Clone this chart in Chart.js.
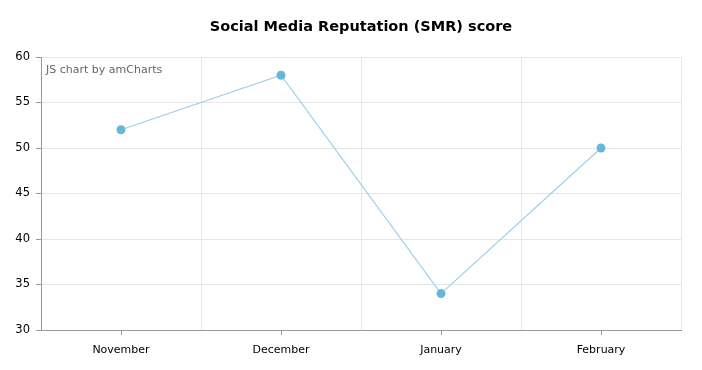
<!DOCTYPE html>
<html>
<head>
<meta charset="utf-8">
<script src="https://cdn.jsdelivr.net/npm/chart.js@4/dist/chart.umd.min.js"></script>
<style>
  html, body { margin: 0; padding: 0; background: #fff; }
  #wrap { width: 702px; height: 370px; }
</style>
</head>
<body>
<div id="wrap"><canvas id="my-chart"></canvas></div>
<script>
'use strict';

// #pragma Data

let months = ['November', 'December', 'January', 'February'];
let smrScores = [52, 58, 34, 50];
let chartTitle = 'Social Media Reputation (SMR) score';
let creditText = 'JS chart by amCharts';

let fontFamily = 'Verdana, "DejaVu Sans", sans-serif';

// #pragma Plugins

// title centred over the plot, credit text, and small tick marks under each month
let extrasPlugin = {
  id: 'extras',
  afterDraw(chart) {
    let ctx = chart.ctx;
    let area = chart.chartArea;
    let xScale = chart.scales.x;

    ctx.save();
    ctx.fillStyle = '#000';
    ctx.font = 'bold 14.5px ' + fontFamily;
    ctx.textAlign = 'center';
    ctx.textBaseline = 'middle';
    ctx.fillText(chartTitle, (area.left + area.right) / 2, 27);

    ctx.fillStyle = '#666';
    ctx.font = '11px ' + fontFamily;
    ctx.textAlign = 'left';
    ctx.fillText(creditText, area.left + 5, 70);

    ctx.strokeStyle = '#999';
    ctx.lineWidth = 1;
    for (let i = 0; i < months.length; i++) {
      let x = Math.round(xScale.getPixelForValue(i)) + 0.5;
      ctx.beginPath();
      ctx.moveTo(x, area.bottom);
      ctx.lineTo(x, area.bottom + 5);
      ctx.stroke();
    }
    ctx.restore();
  },
};

// #pragma Chart

let chartContext = document.getElementById('my-chart').getContext('2d');

let chartConfig = {
  type: 'line',
  data: {
    labels: months,
    datasets: [{
      label: 'SMR score',
      data: smrScores,
      borderColor: '#9dd0ea',
      borderWidth: 1.2,
      backgroundColor: '#67b7dc',
      pointBackgroundColor: '#67b7dc',
      pointBorderWidth: 0,
      pointRadius: 4.5,
      tension: 0,
    }],
  },
  options: {
    responsive: true,
    maintainAspectRatio: false,
    animation: false,
    layout: { padding: { top: 57, right: 21, left: 0, bottom: 0 } },
    plugins: {
      legend: { display: false },
      title: { display: false },
      tooltip: { enabled: false },
    },
    scales: {
      x: {
        offset: true,
        grid: { offset: true, color: '#e6e6e6', drawTicks: false },
        border: { color: '#999' },
        ticks: { color: '#000', font: { family: fontFamily, size: 11 }, padding: 14, maxRotation: 0 },
        afterFit(scale) { scale.height = 40; },
      },
      y: {
        min: 30,
        max: 60,
        grid: { color: '#e6e6e6', tickLength: 5, tickColor: '#999' },
        border: { color: '#999' },
        ticks: { stepSize: 5, color: '#000', font: { family: fontFamily, size: 11.5 }, padding: 6 },
        afterFit(scale) { scale.width = 41; },
      },
    },
  },
  plugins: [extrasPlugin],
};

let myChart = new Chart(chartContext, chartConfig);
</script>
</body>
</html>
